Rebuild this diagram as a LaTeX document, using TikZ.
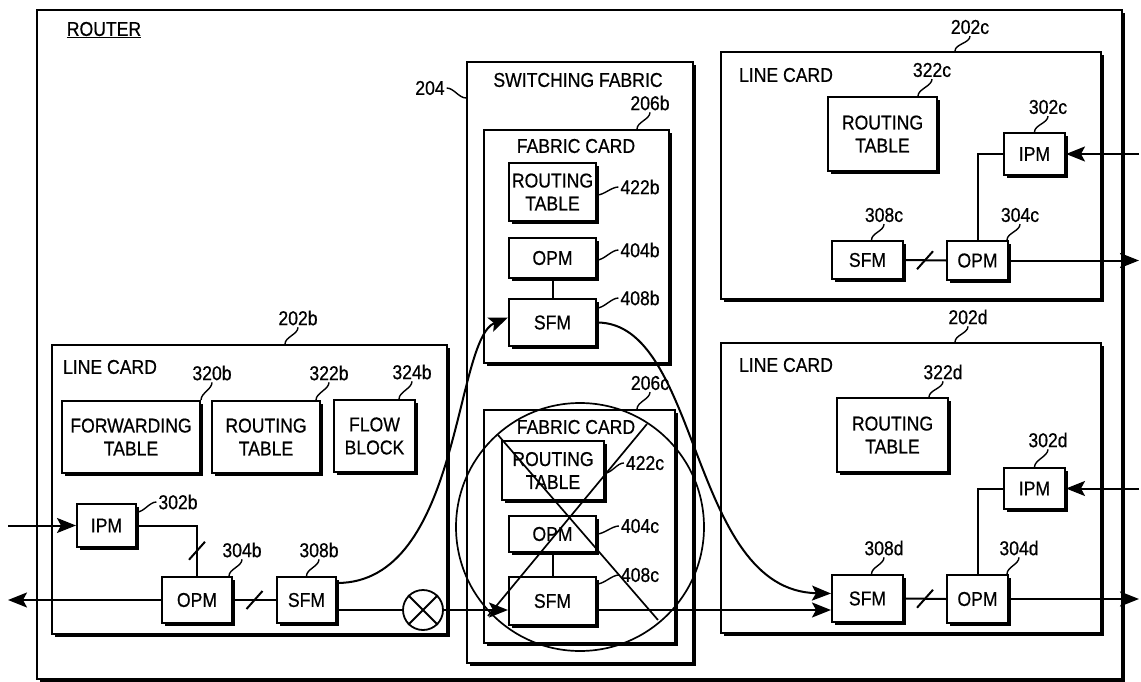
\documentclass[tikz,border=0pt]{standalone}
\usepackage{fontspec}
\setmainfont{Liberation Sans}[FakeStretch=0.88,FakeBold=0.6]
\usetikzlibrary{arrows.meta,shadows}

\begin{document}
\begin{tikzpicture}[x=1pt,y=-1pt,
  font=\fontsize{20}{23}\selectfont,
  line width=2pt,
  shade box/.style={draw, fill=white, line width=2pt,
    drop shadow={shadow xshift=2.6pt, shadow yshift=-2.6pt, fill=black, opacity=1}},
  card/.style={shade box, inner sep=0pt},
  module/.style={shade box, align=center, inner sep=2pt},
  tag/.style={inner sep=1pt},
  lead/.style={line width=1.4pt, to path={.. controls +(0,7) and +(0,-7) .. (\tikztotarget)}},
  lead h/.style={line width=1.4pt, to path={.. controls +(-7,0) and +(7,0) .. (\tikztotarget)}},
  flow/.style={-{Stealth[length=19pt,width=15pt,inset=4pt]}},
  slash/.style={line width=2pt}]
  \useasboundingbox (0,0) rectangle (1141,682);

  % Frames: router, switching fabric, line cards, fabric cards.
  \node[card, minimum width=1085pt, minimum height=669pt] (router) at (579.5,344.5) {};
  \node[tag] (trouter) at (104,30) {\underline{ROUTER}};
  \node[card, minimum width=226pt, minimum height=601pt] (fab) at (580,362.5) {};
  \node[tag] (tfab) at (578,80) {SWITCHING FABRIC};
  \node[card, minimum width=395pt, minimum height=289pt] (c202b) at (249.5,489.5) {};
  \node[card, minimum width=185pt, minimum height=233pt] (c206b) at (576.5,246.5) {};
  \node[card, minimum width=191pt, minimum height=233pt] (c206c) at (579.5,526.5) {};
  \node[card, minimum width=380pt, minimum height=247pt] (c202c) at (911,175.5) {};
  \node[card, minimum width=380pt, minimum height=290pt] (c202d) at (911,488) {};

  \node[tag] (n202b) at (110,367) {LINE CARD};
  \node[tag] (n202c) at (786,75) {LINE CARD};
  \node[tag] (n202d) at (786,365) {LINE CARD};
  \node[tag] (n206b) at (576,146) {FABRIC CARD};
  \node[tag] (n206c) at (576,427) {FABRIC CARD};

  % Line card 202b.
  \node[module, minimum width=138pt, minimum height=72pt] (fwdb) at (131,437) {FORWARDING\\TABLE};
  \node[module, minimum width=108pt, minimum height=72pt] (rtb) at (266,437) {ROUTING\\TABLE};
  \node[module, minimum width=81pt, minimum height=72pt] (flowb) at (374.5,436) {FLOW\\BLOCK};
  \node[module, minimum width=59pt, minimum height=43pt] (ipmb) at (106.5,525.5) {IPM};
  \node[module, minimum width=70pt, minimum height=46pt] (opmb) at (197,600) {OPM};
  \node[module, minimum width=59pt, minimum height=46pt] (sfmb) at (306.5,600) {SFM};

  % Fabric cards 206b and 206c.
  \node[module, minimum width=87pt, minimum height=58pt] (rt422b) at (552.5,192) {ROUTING\\TABLE};
  \node[module, minimum width=87pt, minimum height=40pt] (opm404b) at (552.5,258) {OPM};
  \node[module, minimum width=87pt, minimum height=47pt] (sfm408b) at (552.5,322.5) {SFM};
  \node[module, minimum width=102pt, minimum height=59pt] (rt422c) at (553,470.5) {ROUTING\\TABLE};
  \node[module, minimum width=87pt, minimum height=36pt] (opm404c) at (552.5,534) {OPM};
  \node[module, minimum width=87pt, minimum height=48pt] (sfm408c) at (552.5,601) {SFM};

  % Line cards 202c and 202d.
  \node[module, minimum width=109pt, minimum height=74pt] (rt322c) at (882.5,134) {ROUTING\\TABLE};
  \node[module, minimum width=61pt, minimum height=42pt] (ipm302c) at (1034.5,154) {IPM};
  \node[module, minimum width=61pt, minimum height=39pt] (opm304c) at (977.5,260.5) {OPM};
  \node[module, minimum width=71pt, minimum height=38pt] (sfm308c) at (867.5,260) {SFM};
  \node[module, minimum width=111pt, minimum height=74pt] (rt322d) at (892.5,435) {ROUTING\\TABLE};
  \node[module, minimum width=61pt, minimum height=41pt] (ipm302d) at (1034.5,488.5) {IPM};
  \node[module, minimum width=61pt, minimum height=48pt] (opm304d) at (977.5,599) {OPM};
  \node[module, minimum width=71pt, minimum height=47pt] (sfm308d) at (867.5,598.5) {SFM};

  % Reference numerals and their leaders.
  \node[tag] (t204) at (430,88) {204};
  \node[tag] (t202b) at (298,318) {202b};
  \node[tag] (t320b) at (212,373) {320b};
  \node[tag] (t322b) at (329,373) {322b};
  \node[tag] (t324b) at (412,372) {324b};
  \node[tag] (t302b) at (178,502) {302b};
  \node[tag] (t304b) at (242,550) {304b};
  \node[tag] (t308b) at (319,550) {308b};
  \node[tag] (t206b) at (650,103) {206b};
  \node[tag] (t422b) at (640,187) {422b};
  \node[tag] (t404b) at (640,250) {404b};
  \node[tag] (t408b) at (640,298) {408b};
  \node[tag] (t206c) at (650,383) {206c};
  \node[tag] (t422c) at (645,463) {422c};
  \node[tag] (t404c) at (640,526) {404c};
  \node[tag] (t408c) at (640,575) {408c};
  \node[tag] (t202c) at (970,27) {202c};
  \node[tag] (t322c) at (932,70) {322c};
  \node[tag] (t302c) at (1048,107) {302c};
  \node[tag] (t304c) at (1020,215) {304c};
  \node[tag] (t308c) at (884,215) {308c};
  \node[tag] (t202d) at (968,317) {202d};
  \node[tag] (t322d) at (943,372) {322d};
  \node[tag] (t302d) at (1048,440) {302d};
  \node[tag] (t304d) at (1019,548) {304d};
  \node[tag] (t308d) at (884,548) {308d};

  \draw[lead h] ([yshift=-37pt]fab.north west) to (t204.east);
  \draw[lead] (t202b.south) to ([xshift=35.5pt]c202b.north);
  \draw[lead] (t320b.south) to (fwdb.north east);
  \draw[lead] (t322b.south) to ([xshift=-5pt]rtb.north east);
  \draw[lead] (t324b.south) to ([xshift=24.5pt]flowb.north);
  \draw[lead h] (t302b.west) to ([yshift=13.5pt]ipmb.east);
  \draw[lead] (t304b.south) to ([xshift=-4pt]opmb.north east);
  \draw[lead] (t308b.south) to (sfmb.north);
  \draw[lead] (t206b.south) to ([xshift=60.5pt]c206b.north);
  \draw[lead h] (t422b.west) to ([yshift=-3pt]rt422b.east);
  \draw[lead h] (t404b.west) to ([yshift=-2pt]opm404b.east);
  \draw[lead h] (t408b.west) to ([yshift=14.5pt]sfm408b.east);
  \draw[lead] (t206c.south) to ([xshift=57.5pt]c206c.north);
  \draw[lead h] (t422c.west) to ([yshift=-2.5pt]rt422c.east);
  \draw[lead h] (t404c.west) to (opm404c.east);
  \draw[lead h] (t408c.west) to ([yshift=17pt]sfm408c.east);
  \draw[lead] (t202c.south) to ([xshift=44pt]c202c.north);
  \draw[lead] (t322c.south) to ([xshift=35.5pt]rt322c.north);
  \draw[lead] (t302c.south) to (ipm302c.north);
  \draw[lead] (t304c.south) to ([xshift=-2pt]opm304c.north east);
  \draw[lead] (t308c.south) to ([xshift=4pt]sfm308c.north);
  \draw[lead] (t202d.south) to ([xshift=44pt]c202d.north);
  \draw[lead] (t322d.south) to ([xshift=36.5pt]rt322d.north);
  \draw[lead] (t302d.south) to (ipm302d.north);
  \draw[lead] (t304d.south) to ([xshift=-2pt]opm304d.north east);
  \draw[lead] (t308d.south) to ([xshift=4pt]sfm308d.north);

  % Links inside line card 202b.
  \coordinate (inb) at (8,525.5);
  \coordinate (outb) at (8,600);
  \draw[flow] (inb) -- (ipmb.west);
  \draw (ipmb.east) -| coordinate[pos=0.75] (kb) (opmb.north);
  \draw[slash] (kb) +(-8,9) -- +(8,-9);
  \draw[flow] (opmb.west) -- (outb);
  \draw (opmb.east) -- coordinate (kb2) (sfmb.west);
  \draw[slash] (kb2) +(-8,9) -- +(8,-9);

  % Blocked direct path through the failed fabric card.
  \node[draw, circle, minimum size=40pt, inner sep=0pt, line width=1.8pt] (blk) at (423,610) {};
  \draw (blk.north west) -- (blk.south east) (blk.north east) -- (blk.south west);
  \draw ([yshift=-10pt]sfmb.east) -- (blk.west);
  \draw[flow] (blk.east) -- ([yshift=-9pt]sfm408c.west);
  \draw[flow] ([yshift=-9pt]sfm408c.east) -- ([yshift=-11.5pt]sfm308d.west);

  % Fabric card links and the rerouted path.
  \draw (opm404b) -- (sfm408b);
  \draw (opm404c) -- (sfm408c);
  \draw[flow] ([yshift=17pt]sfmb.east) .. controls +(124,0) and +(-54,22) .. ([yshift=5pt]sfm408b.west);
  \draw[flow] (sfm408b.east) .. controls +(104,0) and +(-142,-3) .. ([yshift=5pt]sfm308d.west);

  % Failed fabric card 206c is crossed out.
  \draw[line width=1.7pt] (580,527) circle (124pt);
  \draw[line width=1.7pt] (498,435) -- (658,620) (647,424) -- (488,616);

  % Links inside line card 202c.
  \coordinate (in302c) at (1139,154);
  \coordinate (out304c) at (1139,260.5);
  \draw[flow] (in302c) -- (ipm302c.east);
  \draw (ipm302c.west) -| (opm304c.north);
  \draw[flow] (opm304c.east) -- (out304c);
  \draw (sfm308c.east) -- coordinate (kc) (opm304c.west);
  \draw[slash] (kc) +(-8,9) -- +(8,-9);

  % Links inside line card 202d.
  \coordinate (in302d) at (1139,488.5);
  \coordinate (out304d) at (1139,599);
  \draw[flow] (in302d) -- (ipm302d.east);
  \draw (ipm302d.west) -| (opm304d.north);
  \draw[flow] (opm304d.east) -- (out304d);
  \draw (sfm308d.east) -- coordinate (kd) (opm304d.west);
  \draw[slash] (kd) +(-8,9) -- +(8,-9);
\end{tikzpicture}
\end{document}
